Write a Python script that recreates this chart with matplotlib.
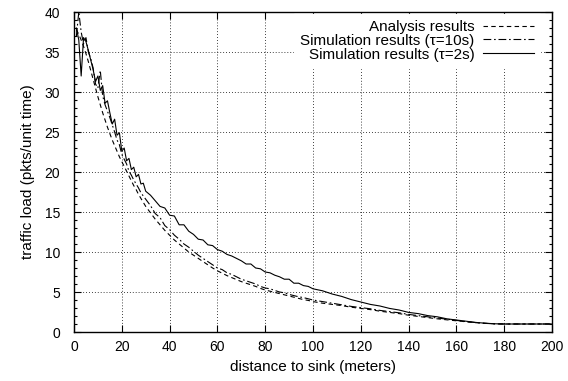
import matplotlib
matplotlib.use("Agg")
import matplotlib.pyplot as plt
from matplotlib.ticker import MultipleLocator

plt.rcParams['font.family'] = ['Liberation Sans', 'DejaVu Sans']
plt.rcParams['font.size'] = 11

# distance to sink (meters)
dist = list(range(1, 31)) + list(range(32, 101, 2)) + list(range(104, 201, 4))

# analysis results (smooth)
analysis = [37.8, 37.2, 36.5, 35.7, 34.8, 33.8, 32.7, 31.6, 30.5, 29.4,
            28.4, 27.4, 26.5, 25.6, 24.8, 24.0, 23.3, 22.6, 21.9, 21.3,
            20.7, 20.1, 19.5, 18.9, 18.3, 17.8, 17.2, 16.7, 16.2, 15.7,
            14.9, 14.1, 13.4, 12.7, 12.1, 11.5, 11.0, 10.5, 10.0, 9.6,
            9.2, 8.8, 8.4, 8.0, 7.65, 7.35, 7.05, 6.8, 6.55, 6.3,
            6.1, 5.9, 5.7, 5.45, 5.25, 5.1, 4.95, 4.8, 4.65, 4.5,
            4.35, 4.2, 4.05, 3.95, 3.8,
            3.6, 3.45, 3.3, 3.1, 2.95, 2.8, 2.6, 2.45, 2.3, 2.1,
            1.95, 1.8, 1.65, 1.52, 1.4, 1.28, 1.17, 1.08, 1.02, 1.0,
            1.0, 1.0, 1.0, 1.0, 1.0]

# simulation, tau = 10s
sim10 = [37.0, 40.0, 37.5, 36.0, 36.8, 35.0, 34.2, 33.0, 31.0, 30.5,
         32.7, 29.5, 28.4, 27.6, 26.8, 25.9, 25.0, 24.0, 23.4, 22.2,
         21.6, 21.0, 20.1, 19.6, 19.0, 18.5, 18.0, 17.4, 17.0, 16.6,
         15.8, 14.8, 14.3, 13.3, 12.8, 12.1, 11.6, 11.0, 10.6, 10.1,
         9.6, 9.2, 8.8, 8.4, 8.0, 7.8, 7.4, 7.2, 6.9, 6.6,
         6.4, 6.2, 6.0, 5.7, 5.5, 5.4, 5.2, 5.0, 4.9, 4.7,
         4.55, 4.4, 4.3, 4.15, 4.0,
         3.8, 3.6, 3.4, 3.2, 3.05, 2.9, 2.7, 2.55, 2.4, 2.2,
         2.05, 1.9, 1.75, 1.6, 1.45, 1.3, 1.18, 1.08, 1.02, 1.0,
         1.0, 1.0, 1.0, 1.0, 1.0]

# simulation, tau = 2s
sim2 = [38.0, 36.5, 32.0, 36.8, 36.3, 35.2, 34.0, 32.8, 31.3, 32.0,
        30.2, 30.8, 28.6, 28.9, 27.4, 26.0, 26.6, 24.6, 24.9, 22.6,
        23.0, 21.4, 21.7, 20.3, 20.6, 19.4, 19.7, 18.5, 18.6, 17.6,
        17.1, 16.4, 15.7, 15.5, 14.6, 14.5, 13.4, 13.4, 12.6, 12.2,
        11.6, 11.5, 10.9, 10.8, 10.3, 10.1, 9.7, 9.5, 9.2, 8.9,
        8.5, 8.5, 8.0, 7.9, 7.5, 7.4, 7.1, 6.9, 6.6, 6.6,
        6.1, 6.1, 5.8, 5.7, 5.4,
        5.15, 4.75, 4.45, 4.05, 3.75, 3.45, 3.25, 2.95, 2.75, 2.45,
        2.3, 2.05, 1.9, 1.65, 1.5, 1.35, 1.2, 1.1, 1.03, 1.0,
        1.0, 1.0, 1.0, 1.0, 1.0]

fig = plt.figure(figsize=(5.68, 3.81), dpi=100)
ax = fig.add_axes([74/568, 49/381, 478/568, 320/381])

ax.plot(dist, analysis, color='black', lw=0.8, dashes=(4, 3), label='Analysis results')
ax.plot(dist, sim10, color='black', lw=0.8, dashes=(7, 2.5, 1.5, 2.5),
        label='Simulation results (\u03c4=10s)')
ax.plot(dist, sim2, color='black', lw=0.8, label='Simulation results (\u03c4=2s)')

ax.set_xlim(0, 200)
ax.set_ylim(0, 40)
ax.xaxis.set_major_locator(MultipleLocator(20))
ax.yaxis.set_major_locator(MultipleLocator(5))
ax.yaxis.set_minor_locator(MultipleLocator(1))
ax.tick_params(which='both', direction='in', top=True, right=True, colors='black',
               labelsize=10)
ax.tick_params(which='major', length=5, width=0.8)
ax.tick_params(which='minor', length=2.5, width=0.8)
ax.tick_params(axis='x', pad=6)
ax.tick_params(axis='y', pad=10)
ax.grid(True, which='major', color='black', lw=0.6, linestyle=(0, (1, 2.5)))
for s in ax.spines.values():
    s.set_linewidth(1.0)

ax.set_xlabel('distance to sink (meters)', labelpad=4)
ax.set_ylabel('traffic load (pkts/unit time)', labelpad=7)

leg = ax.legend(loc='upper right', bbox_to_anchor=(1 - 12/478, 1 - 2/320), markerfirst=False,
                frameon=True, fancybox=False, framealpha=1, edgecolor='white',
                handlelength=3.3, handletextpad=0.6, labelspacing=-0.02,
                borderaxespad=0, fontsize=11)
leg._legend_box._children[-1]._children[0].align = 'right'

fig.savefig('out.png', dpi=100)
